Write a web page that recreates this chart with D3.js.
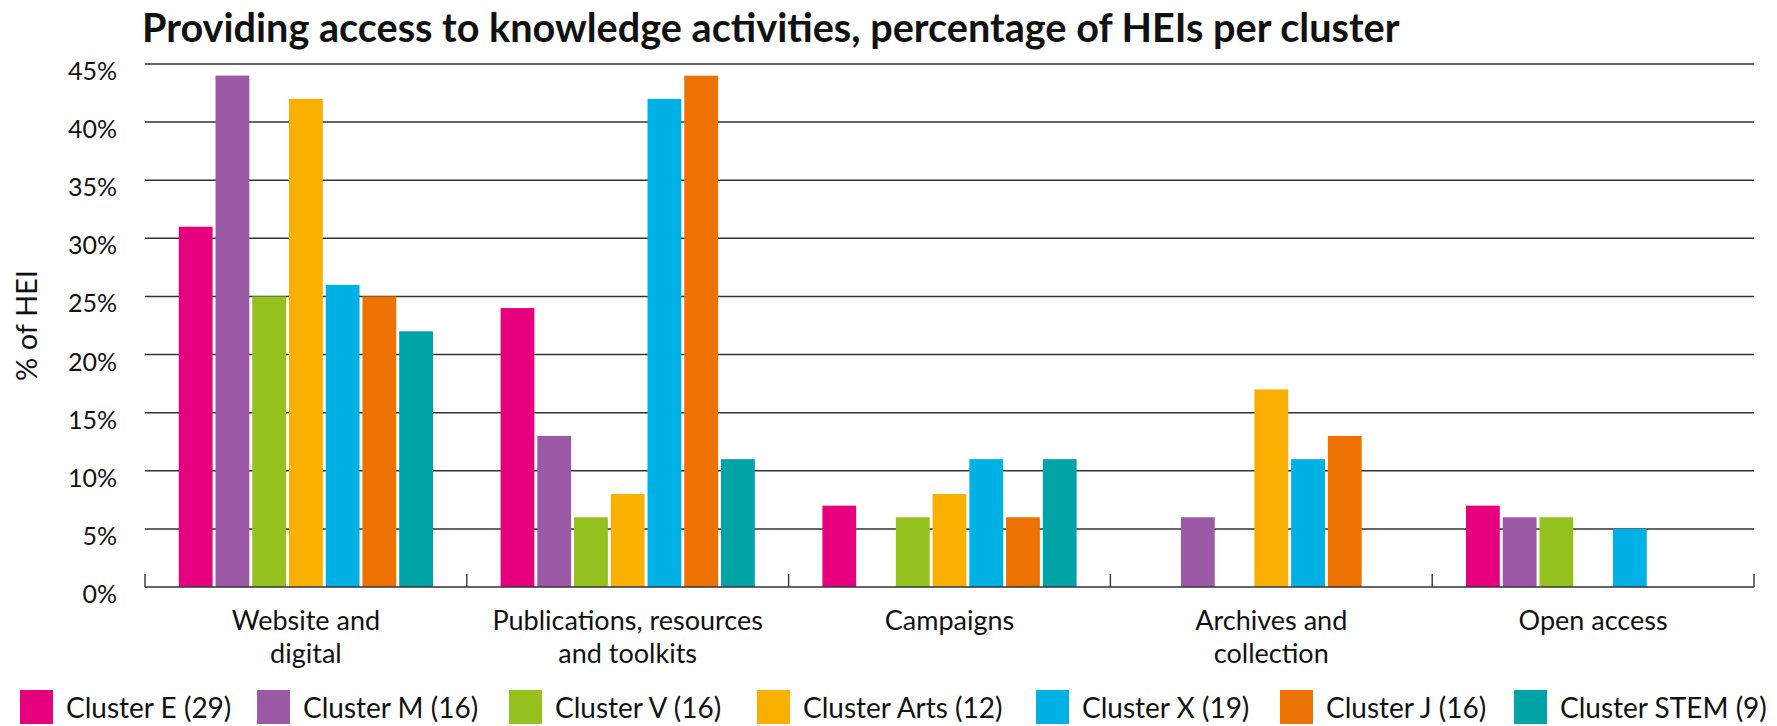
<!DOCTYPE html>
<html>
<head>
<meta charset="utf-8">
<script src="https://d3js.org/d3.v7.min.js"></script>
<style>
  body { margin: 0; background: #fff; }
  svg text { font-family: Lato, "Open Sans", sans-serif; fill: #111; }
</style>
</head>
<body>
<div id="chart"></div>
<script>
// data
const categories = ["Website and digital", "Publications, resources and toolkits", "Campaigns", "Archives and collection", "Open access"];
const categoryLines = [["Website and", "digital"], ["Publications, resources", "and toolkits"], ["Campaigns"], ["Archives and", "collection"], ["Open access"]];
const clusters = ["Cluster E (29)", "Cluster M (16)", "Cluster V (16)", "Cluster Arts (12)", "Cluster X (19)", "Cluster J (16)", "Cluster STEM (9)"];
const clusterE    = [31, 24, 7, 0, 7];
const clusterM    = [44, 13, 0, 6, 6];
const clusterV    = [25, 6, 6, 0, 6];
const clusterArts = [42, 8, 8, 17, 0];
const clusterX    = [26, 42, 11, 11, 5];
const clusterJ    = [25, 44, 6, 13, 0];
const clusterSTEM = [22, 11, 11, 0, 0];
const yTicks = [0, 5, 10, 15, 20, 25, 30, 35, 40, 45];

const series = [clusterE, clusterM, clusterV, clusterArts, clusterX, clusterJ, clusterSTEM];
const colors = ["#e6007e", "#9b59a6", "#95c11f", "#f9b000", "#00b1e6", "#ee7203", "#00a3a6"];

let width = 1777;
let height = 726;
let svg = d3.select("#chart").append("svg")
  .attr("width", width)
  .attr("height", height);

let mLeft = 145, mRight = 1754, mTop = 64, mBottom = 587;

let y = d3.scaleLinear().domain([0, 45]).range([mBottom, mTop]);
let x0 = d3.scaleBand().domain(categories).range([mLeft, mRight]);
let bw = x0.bandwidth();
let x1 = d3.scaleBand().domain(clusters).range([bw * 0.105, bw * 0.895]).paddingInner(0.08);

// title
let title = svg.append("text")
  .attr("x", 142).attr("y", 42)
  .style("font-weight", "bold")
  .style("font-size", "30px")
  .text("Providing access to knowledge activities, percentage of HEIs per cluster");
let tw = title.node().getComputedTextLength();
title.style("font-size", (30 * 1258 / tw) + "px");

// grid lines + y labels
let yAxis = d3.axisLeft(y).tickValues(yTicks).tickFormat(d => d + "%").tickSize(0).tickPadding(28);
let yg = svg.append("g").attr("transform", `translate(${mLeft},0)`).call(yAxis);
yg.select(".domain").remove();
yg.selectAll("text").style("font-size", "25px").attr("dy", "0.62em").style("fill", "#111");

svg.append("g").selectAll("line")
  .data(yTicks.filter(d => d > 0))
  .enter().append("line")
  .attr("x1", mLeft).attr("x2", mRight)
  .attr("y1", d => y(d)).attr("y2", d => y(d))
  .attr("stroke", "#333").attr("stroke-width", 1.5);

// y title
svg.append("text")
  .attr("transform", `translate(37,${(mTop + mBottom) / 2}) rotate(-90)`)
  .attr("text-anchor", "middle")
  .style("font-size", "29px")
  .text("% of HEI");

// bars
let groups = svg.append("g").selectAll("g")
  .data(categories)
  .enter().append("g")
  .attr("transform", d => `translate(${x0(d)},0)`);

groups.selectAll("rect")
  .data((d, i) => series.map((s, j) => ({ c: clusters[j], v: s[i], k: j })))
  .enter().append("rect")
  .attr("x", d => x1(d.c))
  .attr("width", x1.bandwidth())
  .attr("y", d => y(d.v))
  .attr("height", d => y(0) - y(d.v))
  .attr("fill", d => colors[d.k]);

// x axis line and separator ticks
svg.append("line")
  .attr("x1", mLeft).attr("x2", mRight)
  .attr("y1", mBottom).attr("y2", mBottom)
  .attr("stroke", "#333").attr("stroke-width", 1.6);

let seps = categories.map(c => x0(c)).concat([mRight]);
svg.append("g").selectAll("line")
  .data(seps)
  .enter().append("line")
  .attr("x1", d => d).attr("x2", d => d)
  .attr("y1", mBottom).attr("y2", mBottom - 13)
  .attr("stroke", "#333").attr("stroke-width", 1.4);

// category labels
let labels = svg.append("g").selectAll("text")
  .data(categories)
  .enter().append("text")
  .attr("text-anchor", "middle")
  .attr("x", d => x0(d) + bw / 2)
  .attr("y", 630)
  .style("font-size", "27px");
labels.selectAll("tspan")
  .data((d, i) => categoryLines[i])
  .enter().append("tspan")
  .attr("x", function () { return d3.select(this.parentNode).attr("x"); })
  .attr("dy", (d, i) => i === 0 ? 0 : 33)
  .text(d => d);

// legend
let legendX = [20, 257, 509, 757, 1036, 1280, 1514];
let legend = svg.append("g").selectAll("g")
  .data(clusters)
  .enter().append("g")
  .attr("transform", (d, i) => `translate(${legendX[i]},690)`);
legend.append("rect")
  .attr("width", 33).attr("height", 34)
  .attr("fill", (d, i) => colors[i]);
legend.append("text")
  .attr("x", 46).attr("y", 28)
  .style("font-size", "28px")
  .text(d => d)
  .each(function (d, i) {
    // shrink a label if it would run into the next swatch or off the page
    let room = (i < legendX.length - 1 ? legendX[i + 1] - 12 : width - 3) - (legendX[i] + 46);
    let w = this.getComputedTextLength();
    if (w > room) d3.select(this).style("font-size", (28 * room / w) + "px");
  });
</script>
</body>
</html>
